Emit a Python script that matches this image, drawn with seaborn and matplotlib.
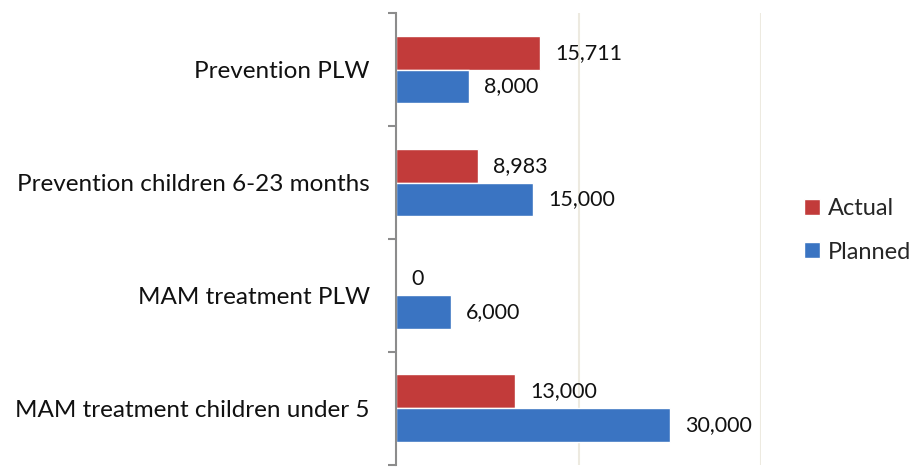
import numpy as np
import pandas as pd
import matplotlib
matplotlib.use('Agg')
import matplotlib.pyplot as plt
import seaborn as sns

# data
categories = ['Prevention PLW', 'Prevention children 6-23 months',
              'MAM treatment PLW', 'MAM treatment children under 5']
actual = [15711, 8983, 0, 13000]
planned = [8000, 15000, 6000, 30000]
series = ['Actual', 'Planned']

df = pd.DataFrame({
    'Category': categories * 2,
    'Value': actual + planned,
    'Series': ['Actual'] * len(categories) + ['Planned'] * len(categories),
})

sns.set_style('white')
plt.rcParams['font.family'] = ['Lato', 'DejaVu Sans']

fig = plt.figure(figsize=(9.15, 4.7), dpi=100)
ax = fig.add_axes([0.433, 0.011, 0.399, 0.961])

palette = {'Actual': '#C23B3A', 'Planned': '#3A74C2'}
sns.barplot(data=df, y='Category', x='Value', hue='Series', hue_order=series,
            order=categories, palette=palette, orient='h', width=0.6,
            saturation=1, ax=ax)

for c in ax.containers:
    ax.bar_label(c, labels=['{:,.0f}'.format(v) for v in c.datavalues],
                 padding=11, fontsize=15.5, color='#111111')

ax.set_xlim(0, 40000)
ax.set_xticks([0, 20000, 40000])
ax.set_xticklabels([])
ax.xaxis.grid(True, color='#EDEAE0', linewidth=1.5)
ax.set_axisbelow(True)
ax.set_xlabel('')
ax.set_ylabel('')

for s in ['top', 'right', 'bottom']:
    ax.spines[s].set_visible(False)
ax.spines['left'].set_color('#8C8C8C')
ax.spines['left'].set_linewidth(1.5)

ax.set_ylim(3.5, -0.5)
ax.set_yticks(np.arange(len(categories)))
ax.set_yticklabels(categories, fontsize=17.5, color='#111111')
ax.set_yticks(np.arange(len(categories) + 1) - 0.5, minor=True)
ax.tick_params(axis='y', which='major', length=0, pad=19)
ax.tick_params(axis='y', which='minor', length=6, width=1.5, color='#8C8C8C', left=True)
ax.tick_params(axis='x', length=0)

handles, labels = ax.get_legend_handles_labels()
ax.legend(handles, labels, loc='center left', bbox_to_anchor=(0.856, 0.51),
          bbox_transform=fig.transFigure, frameon=False, fontsize=17,
          handlelength=0.65, handleheight=0.65, handletextpad=0.35, labelspacing=0.95)

fig.savefig('out.png', dpi=100)
